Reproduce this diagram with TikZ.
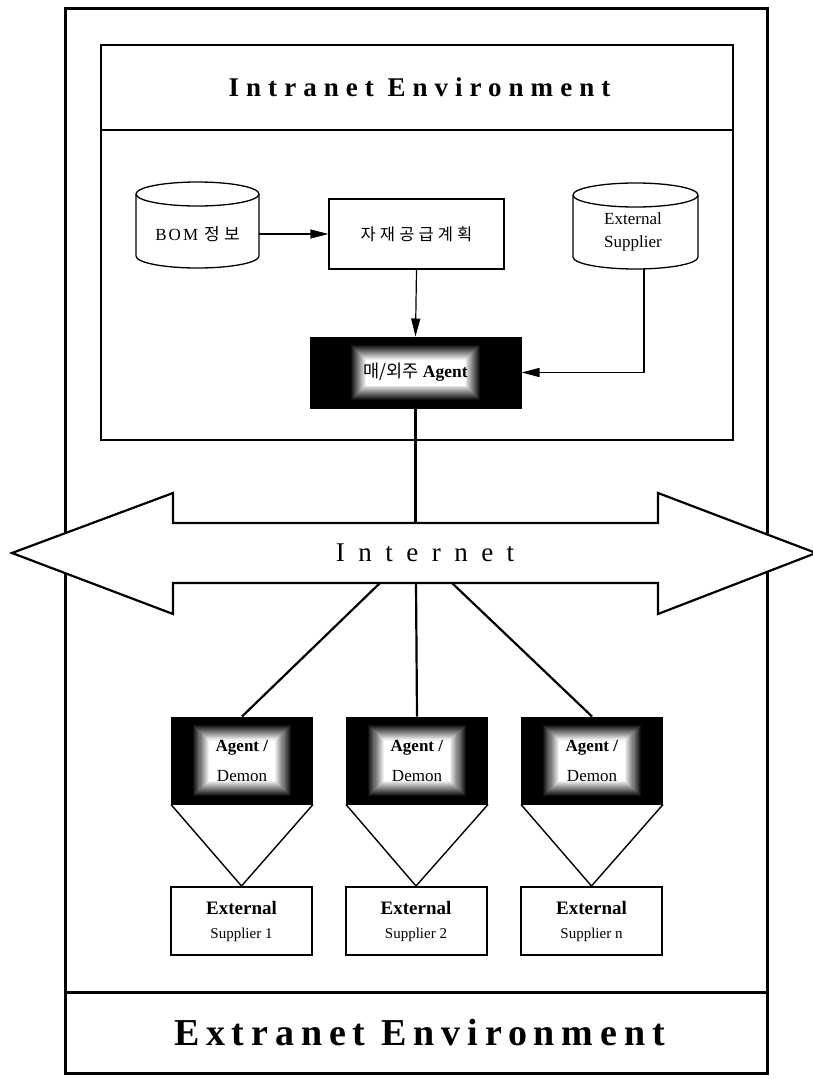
\documentclass[tikz,border=0pt]{standalone}
\usepackage{fontspec}
\setmainfont{Liberation Serif}
\newfontfamily\kr{Noto Sans CJK KR}
\newfontfamily\krsp[LetterSpace=25]{Noto Sans CJK KR}
\newfontfamily\spIntra[LetterSpace=26]{Liberation Serif}
\newfontfamily\spExtra[LetterSpace=18]{Liberation Serif}
\newfontfamily\spInet[LetterSpace=50]{Liberation Serif}
\newfontfamily\spBom[LetterSpace=12]{Liberation Serif}
\usetikzlibrary{arrows.meta,calc}
\newcommand\glowfill[3]{%
  \foreach \k in {0,...,16}{%
    \pgfmathsetmacro\glc{100*\k/16}%
    \pgfmathsetmacro\gld{#3*(16-\k)/16}%
    \fill[white!\glc!black]
      ([shift={({-#1-\gld},{-#2-\gld})}]path picture bounding box.center)
      rectangle
      ([shift={({#1+\gld},{#2+\gld})}]path picture bounding box.center);
  }}
\newcommand\dbcylinder[5]{% cx, top, bottom, rx, ry
  \fill[white] ({#1-#4},{#2+#5}) rectangle ({#1+#4},{#3-#5});
  \draw[line width=1.3pt] ({#1},{#2+#5}) ellipse [x radius=#4pt, y radius=#5pt];
  \draw[line width=1.3pt] ({#1-#4},{#2+#5}) -- ({#1-#4},{#3-#5})
    .. controls ({#1-#4},{#3-#5+0.5523*#5}) and ({#1-0.5523*#4},{#3}) .. ({#1},{#3})
    .. controls ({#1+0.5523*#4},{#3}) and ({#1+#4},{#3-#5+0.5523*#5}) .. ({#1+#4},{#3-#5})
    -- ({#1+#4},{#2+#5});
}
\tikzset{
  frame/.style={draw, line width=3pt, inner sep=0pt},
  inframe/.style={draw, line width=2pt, inner sep=0pt},
  planbox/.style={draw, line width=1.2pt, inner sep=0pt, minimum width=175pt, minimum height=70pt},
  conn/.style={line width=1.2pt, -{Triangle[length=18pt,width=9pt]}},
  link/.style={line width=2.2pt},
  agentmain/.style={draw=black, fill=black, line width=1pt, inner sep=0pt,
    minimum width=211pt, minimum height=71pt, path picture={\glowfill{50}{13}{15}}},
  demon/.style={draw=black, fill=black, line width=1pt, inner sep=0pt, align=center,
    minimum width=141pt, minimum height=87pt, path picture={\glowfill{33}{20}{17}},
    font=\fontsize{17}{20}\selectfont},
  supbox/.style={draw, line width=2pt, inner sep=0pt, align=center,
    minimum width=141pt, minimum height=68pt, font=\fontsize{15}{18}\selectfont},
}
\begin{document}
\begin{tikzpicture}[x=1pt,y=-1pt]
\useasboundingbox (0,0) rectangle (812,1079);
\fill[white] (0,0) rectangle (812,1079);

% outer frame and extranet band
\node[frame, minimum width=702pt, minimum height=1065pt] (outer) at (416,540.5) {};
\node[frame, minimum width=702pt, minimum height=81pt,
  font=\spExtra\bfseries\fontsize{38}{43}\selectfont] (extra) at (416,1032.5)
  {\hspace*{6.8pt}Extranet Environment};

% intranet
\node[inframe, minimum width=632pt, minimum height=85pt,
  font=\spIntra\bfseries\fontsize{27}{31}\selectfont] (intra) at (417,87.5)
  {\hspace*{5pt}Intranet Environment};
\node[inframe, minimum width=632pt, minimum height=310pt] (intrabody) at (417,285) {};

% cylinders
\dbcylinder{197.5}{182}{268}{61.5}{12}
\node[inner sep=0pt, minimum width=123pt, font=\fontsize{17}{20}\selectfont] (bom) at (197.5,234)
  {{\spBom BOM}\hspace{6pt}{\krsp 정보}};
\dbcylinder{635.5}{183}{269}{62.5}{12}
\node[inner sep=0pt, align=center, font=\fontsize{17}{23}\selectfont] (es) at (633,232)
  {External\\Supplier};
\coordinate (esb) at (644,269);

% plan box and agent
\node[planbox, font=\krsp\fontsize{16.5}{19}\selectfont] (plan) at (416.5,234) {자재공급계획};
\node[agentmain, font=\fontsize{17.5}{20}\selectfont] (ag) at (415.5,372.5)
  {{\kr 매/외주} \textbf{Agent}};

\draw[conn] (bom.east) -- (plan.west);
\draw[conn] (plan.south) -- (ag.north);
\draw[conn] (esb) |- (ag.east);

% internet arrow
\draw[line width=2.2pt, fill=white, line join=miter]
  (12,553) -- (173,493) -- (173,523) -- (658,523) -- (658,493) -- (816,553)
  -- (658,614) -- (658,583) -- (173,583) -- (173,614) -- cycle;
\node[font=\spInet\fontsize{27}{31}\selectfont, inner sep=0pt] (inet) at (425,553) {Internet};
\coordinate (inT) at (415.5,523);
\coordinate (inB1) at (380,583);
\coordinate (inB2) at (416,583);
\coordinate (inB3) at (452,583);
\draw[link] (ag.south) -- (inT);

% agent / demon boxes
\node[demon] (d1) at (242,760.5) {\textbf{Agent /}\\[10pt]Demon};
\node[demon] (d2) at (417,760.5) {\textbf{Agent /}\\[10pt]Demon};
\node[demon] (d3) at (592,760.5) {\textbf{Agent /}\\[10pt]Demon};
\draw[link] (inB1) -- (d1.north);
\draw[link] (inB2) -- (d2.north);
\draw[link] (inB3) -- (d3.north);

% suppliers
\node[supbox] (s1) at (241.5,921) {{\fontsize{19}{22}\selectfont\bfseries External}\\[6pt]Supplier 1};
\node[supbox] (s2) at (416,921) {{\fontsize{19}{22}\selectfont\bfseries External}\\[6pt]Supplier 2};
\node[supbox] (s3) at (591.5,921) {{\fontsize{19}{22}\selectfont\bfseries External}\\[6pt]Supplier n};
\draw[line width=1.4pt] (d1.south west) -- (s1.north) -- (d1.south east);
\draw[line width=1.4pt] (d2.south west) -- (s2.north) -- (d2.south east);
\draw[line width=1.4pt] (d3.south west) -- (s3.north) -- (d3.south east);
\end{tikzpicture}
\end{document}
